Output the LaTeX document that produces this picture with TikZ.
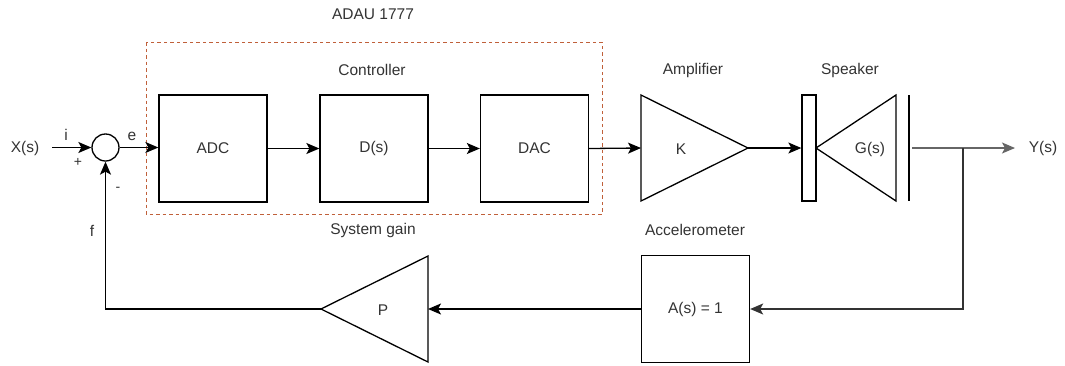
\documentclass[tikz,border=0pt]{standalone}
\usepackage{fontspec}
\setmainfont{Liberation Sans}
\usetikzlibrary{arrows.meta}
\definecolor{txt}{HTML}{333333}
\definecolor{dashred}{HTML}{C0603A}
\definecolor{outgray}{HTML}{666666}
\begin{document}
\begin{tikzpicture}[x=1pt,y=-1pt,
  font=\fontsize{15.5}{18}\selectfont, text=txt,
  line/.style={line width=1.3pt, draw=black},
  tip/.style={-{Stealth[length=13pt,width=11pt,inset=3pt]}},
  arr/.style={line, tip},
  blk/.style={line, rectangle, minimum width=108pt, minimum height=107pt, inner sep=0pt},
  lbl/.style={inner sep=0pt, anchor=center},
  grp/.style={draw=dashred, line width=1pt, dash pattern=on 3.5pt off 3pt}]
\path[use as bounding box] (0,0) rectangle (1065,365);

% group
\node[lbl] (adau) at (373,14) {ADAU 1777};
\draw[grp] (146,42) rectangle (602,214);
\node[lbl] (ctrl) at (372,70) {Controller};
\node[lbl] (amp) at (693,70) {Amplifier};
\node[lbl] (spk) at (850,70) {Speaker};
\node[lbl] (sysg) at (373,230) {System gain};
\node[lbl] (accl) at (695,230) {Accelerometer};

% input and summing junction
\node[lbl] (X) at (25,148) {X(s)};
\coordinate (xin) at (52,147.5);
\node[line, circle, minimum size=27pt, inner sep=0pt] (sum) at (105.5,147.5) {};
\node[lbl] (li) at (66,135) {i};
\node[lbl, font=\fontsize{14}{16}\selectfont] (lplus) at (78,162) {+};
\node[lbl, font=\fontsize{14}{16}\selectfont] (lminus) at (118,189) {-};
\node[lbl] (le) at (132,136) {e};
\node[lbl] (lf) at (92,231) {f};

% blocks
\node[blk] (adc) at (213,148.5) {ADC};
\node[blk] (ds) at (374,148.5) {D(s)};
\node[blk] (dac) at (534.5,148.5) {DAC};
\node[blk] (acc) at (695.5,309) {A(s) = 1};

% amplifier triangle
\coordinate (kin) at (641,148);
\coordinate (kout) at (748,148);
\draw[line, line join=miter] (641,95) -- (748,148) -- (641,201) -- cycle;
\node[lbl] (K) at (681,149) {K};

% speaker
\node[line, rectangle, minimum width=14pt, minimum height=106pt, inner sep=0pt] (coil) at (809,148) {};
\draw[line, line join=miter] (816,148) -- (896,95) -- (896,201) -- cycle;
\node[lbl] (G) at (870,149) {G(s)};
\coordinate (mtop) at (909,95);
\coordinate (mbot) at (909,201);
\draw[line] (mtop) -- (mbot);
\coordinate (yout) at (912,148);
\coordinate (branch) at (963,148);
\coordinate (yend) at (1015,148);
\node[lbl] (Y) at (1043,148) {Y(s)};

% P triangle
\coordinate (pin) at (428,309);
\coordinate (pout) at (321,309);
\draw[line, line join=miter] (428,256) -- (321,309) -- (428,362) -- cycle;
\node[lbl] (P) at (383,310) {P};
\coordinate (fcorner) at (105.5,309);

% connectors
\draw[arr] (xin) -- (sum.west);
\draw[arr] (sum.east) -- (adc.west |- sum.east);
\draw[arr] (adc.east) -- (ds.west);
\draw[arr] (ds.east) -- (dac.west);
\draw[arr] (dac.east) -- (kin);
\draw[arr] (kout) -- (coil.west);
\draw[line, draw=outgray, tip] (yout) -- (yend);
\draw[arr, draw=black!80] (branch) |- (acc.east);
\draw[arr] (acc.west) -- (pin);
\draw[arr] (pout) -- (fcorner) -- (sum.south);
\end{tikzpicture}
\end{document}
